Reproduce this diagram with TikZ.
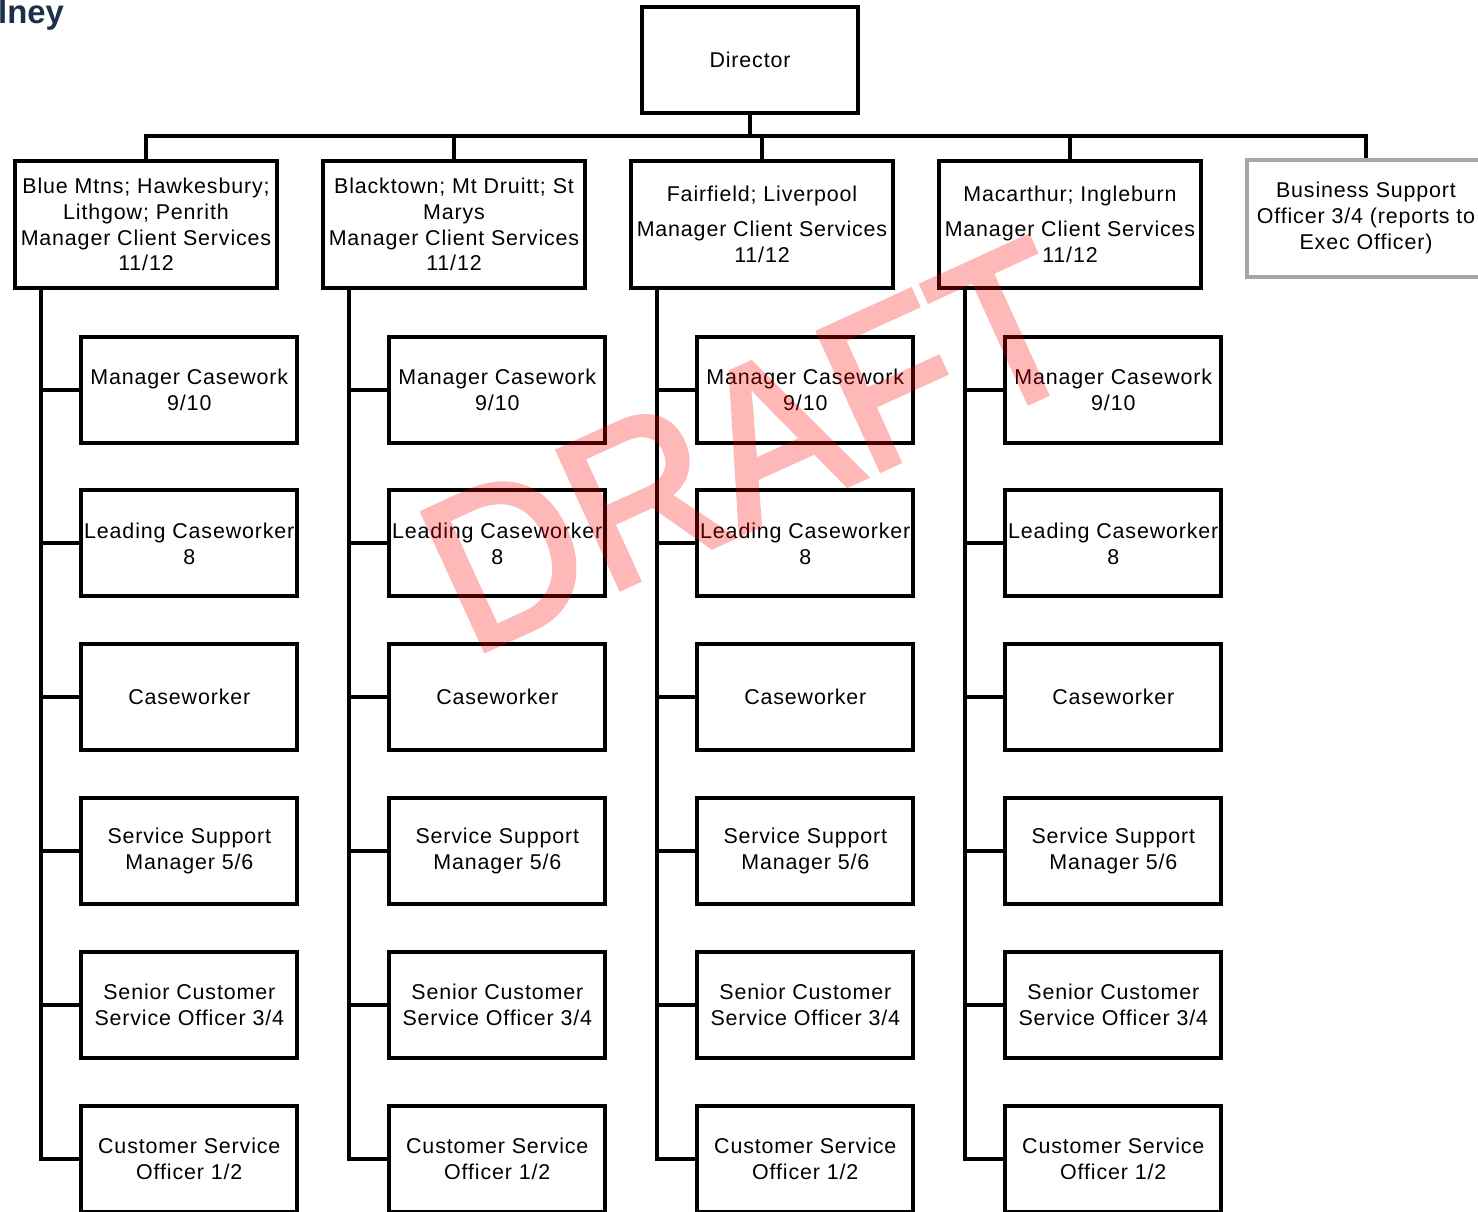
\documentclass[tikz,border=0pt]{standalone}
\usepackage{fontspec}
\setmainfont[LetterSpace=4]{Liberation Sans}
\newfontfamily\draftfont{Liberation Sans}
\newfontfamily\draftfontheavy[FakeBold=2.5]{Liberation Sans}
\definecolor{titlenavy}{HTML}{1C2F4C}
\definecolor{sidegrey}{HTML}{A6A6A6}
\tikzset{
  rolebox/.style={draw,line width=4bp,minimum width=216bp,minimum height=106bp,align=center,inner sep=0pt},
  regionbox/.style={rolebox,minimum width=262bp,minimum height=127.6bp},
  sidebox/.style={rolebox,draw=sidegrey,minimum width=238.6bp,minimum height=116.7bp},
  link/.style={black,line width=4bp},
}
\begin{document}
\begin{tikzpicture}[line join=miter,font=\fontsize{21.5}{26}\selectfont]
\useasboundingbox (0bp,0bp) rectangle (1478bp,1212bp);
\clip (0bp,0bp) rectangle (1478bp,1212bp);
%%
\node (node_title) at (-2bp,1188bp) [anchor=base west,inner sep=0pt,text=titlenavy,font=\fontsize{33}{33}\selectfont\bfseries\draftfont] {lney};
\node (node_director) at (750bp,1152bp) [rolebox,minimum width=216.6bp,minimum height=106.6bp] {Director};
\coordinate (bus) at (750bp,1075.5bp);
%
\node (node_region_1) at (146bp,987.5bp) [regionbox] {Blue Mtns; Hawkesbury;\\Lithgow; Penrith\\Manager Client Services\\11/12};
\node (node_region_2) at (454bp,987.5bp) [regionbox] {Blacktown; Mt Druitt; St\\Marys\\Manager Client Services\\11/12};
\node (node_region_3) at (762bp,987.5bp) [regionbox] {Fairfield; Liverpool\\[9bp]Manager Client Services\\11/12};
\node (node_region_4) at (1070bp,987.5bp) [regionbox] {Macarthur; Ingleburn\\[9bp]Manager Client Services\\11/12};
\node (node_support) at (1366bp,993.7bp) [sidebox] {Business Support\\Officer 3/4 (reports to\\Exec Officer)};
%
\draw [link] (node_director.south) -- (bus);
\draw [link] (node_region_1.north) |- (bus);
\draw [link] (node_region_2.north) |- (bus);
\draw [link] (node_region_3.north) |- (bus);
\draw [link] (node_region_4.north) |- (bus);
\draw [link] (node_support.north) |- (bus);
%
\coordinate (spine_1) at (41bp,0bp);
\coordinate (spine_2) at (349bp,0bp);
\coordinate (spine_3) at (657bp,0bp);
\coordinate (spine_4) at (965bp,0bp);
%
\node (node_1_1) at (189.3bp,822.3bp) [rolebox] {Manager Casework\\9/10};
\node (node_1_2) at (189.3bp,668.5bp) [rolebox] {Leading Caseworker\\8};
\node (node_1_3) at (189.3bp,514.7bp) [rolebox] {Caseworker};
\node (node_1_4) at (189.3bp,361bp) [rolebox] {Service Support\\Manager 5/6};
\node (node_1_5) at (189.3bp,207.2bp) [rolebox] {Senior Customer\\Service Officer 3/4};
\node (node_1_6) at (189.3bp,53.4bp) [rolebox] {Customer Service\\Officer 1/2};
%
\node (node_2_1) at (497.3bp,822.3bp) [rolebox] {Manager Casework\\9/10};
\node (node_2_2) at (497.3bp,668.5bp) [rolebox] {Leading Caseworker\\8};
\node (node_2_3) at (497.3bp,514.7bp) [rolebox] {Caseworker};
\node (node_2_4) at (497.3bp,361bp) [rolebox] {Service Support\\Manager 5/6};
\node (node_2_5) at (497.3bp,207.2bp) [rolebox] {Senior Customer\\Service Officer 3/4};
\node (node_2_6) at (497.3bp,53.4bp) [rolebox] {Customer Service\\Officer 1/2};
%
\node (node_3_1) at (805.3bp,822.3bp) [rolebox] {Manager Casework\\9/10};
\node (node_3_2) at (805.3bp,668.5bp) [rolebox] {Leading Caseworker\\8};
\node (node_3_3) at (805.3bp,514.7bp) [rolebox] {Caseworker};
\node (node_3_4) at (805.3bp,361bp) [rolebox] {Service Support\\Manager 5/6};
\node (node_3_5) at (805.3bp,207.2bp) [rolebox] {Senior Customer\\Service Officer 3/4};
\node (node_3_6) at (805.3bp,53.4bp) [rolebox] {Customer Service\\Officer 1/2};
%
\node (node_4_1) at (1113.3bp,822.3bp) [rolebox] {Manager Casework\\9/10};
\node (node_4_2) at (1113.3bp,668.5bp) [rolebox] {Leading Caseworker\\8};
\node (node_4_3) at (1113.3bp,514.7bp) [rolebox] {Caseworker};
\node (node_4_4) at (1113.3bp,361bp) [rolebox] {Service Support\\Manager 5/6};
\node (node_4_5) at (1113.3bp,207.2bp) [rolebox] {Senior Customer\\Service Officer 3/4};
\node (node_4_6) at (1113.3bp,53.4bp) [rolebox] {Customer Service\\Officer 1/2};
%
\draw [link] (node_region_1.south -| spine_1) |- (node_1_6.west);
\draw [link] (node_1_1.west) -- (node_1_1.west -| spine_1);
\draw [link] (node_1_2.west) -- (node_1_2.west -| spine_1);
\draw [link] (node_1_3.west) -- (node_1_3.west -| spine_1);
\draw [link] (node_1_4.west) -- (node_1_4.west -| spine_1);
\draw [link] (node_1_5.west) -- (node_1_5.west -| spine_1);
%
\draw [link] (node_region_2.south -| spine_2) |- (node_2_6.west);
\draw [link] (node_2_1.west) -- (node_2_1.west -| spine_2);
\draw [link] (node_2_2.west) -- (node_2_2.west -| spine_2);
\draw [link] (node_2_3.west) -- (node_2_3.west -| spine_2);
\draw [link] (node_2_4.west) -- (node_2_4.west -| spine_2);
\draw [link] (node_2_5.west) -- (node_2_5.west -| spine_2);
%
\draw [link] (node_region_3.south -| spine_3) |- (node_3_6.west);
\draw [link] (node_3_1.west) -- (node_3_1.west -| spine_3);
\draw [link] (node_3_2.west) -- (node_3_2.west -| spine_3);
\draw [link] (node_3_3.west) -- (node_3_3.west -| spine_3);
\draw [link] (node_3_4.west) -- (node_3_4.west -| spine_3);
\draw [link] (node_3_5.west) -- (node_3_5.west -| spine_3);
%
\draw [link] (node_region_4.south -| spine_4) |- (node_4_6.west);
\draw [link] (node_4_1.west) -- (node_4_1.west -| spine_4);
\draw [link] (node_4_2.west) -- (node_4_2.west -| spine_4);
\draw [link] (node_4_3.west) -- (node_4_3.west -| spine_4);
\draw [link] (node_4_4.west) -- (node_4_4.west -| spine_4);
\draw [link] (node_4_5.west) -- (node_4_5.west -| spine_4);
%
\begin{scope}[transparency group,opacity=0.28]
\node (node_draft) at (470bp,555bp) [anchor=base west,rotate=24.5,xscale=0.94,inner sep=0pt,text=red,font=\fontsize{220}{220}\selectfont\draftfontheavy] {DRAFT};
\end{scope}
%
\end{tikzpicture}
\end{document}
